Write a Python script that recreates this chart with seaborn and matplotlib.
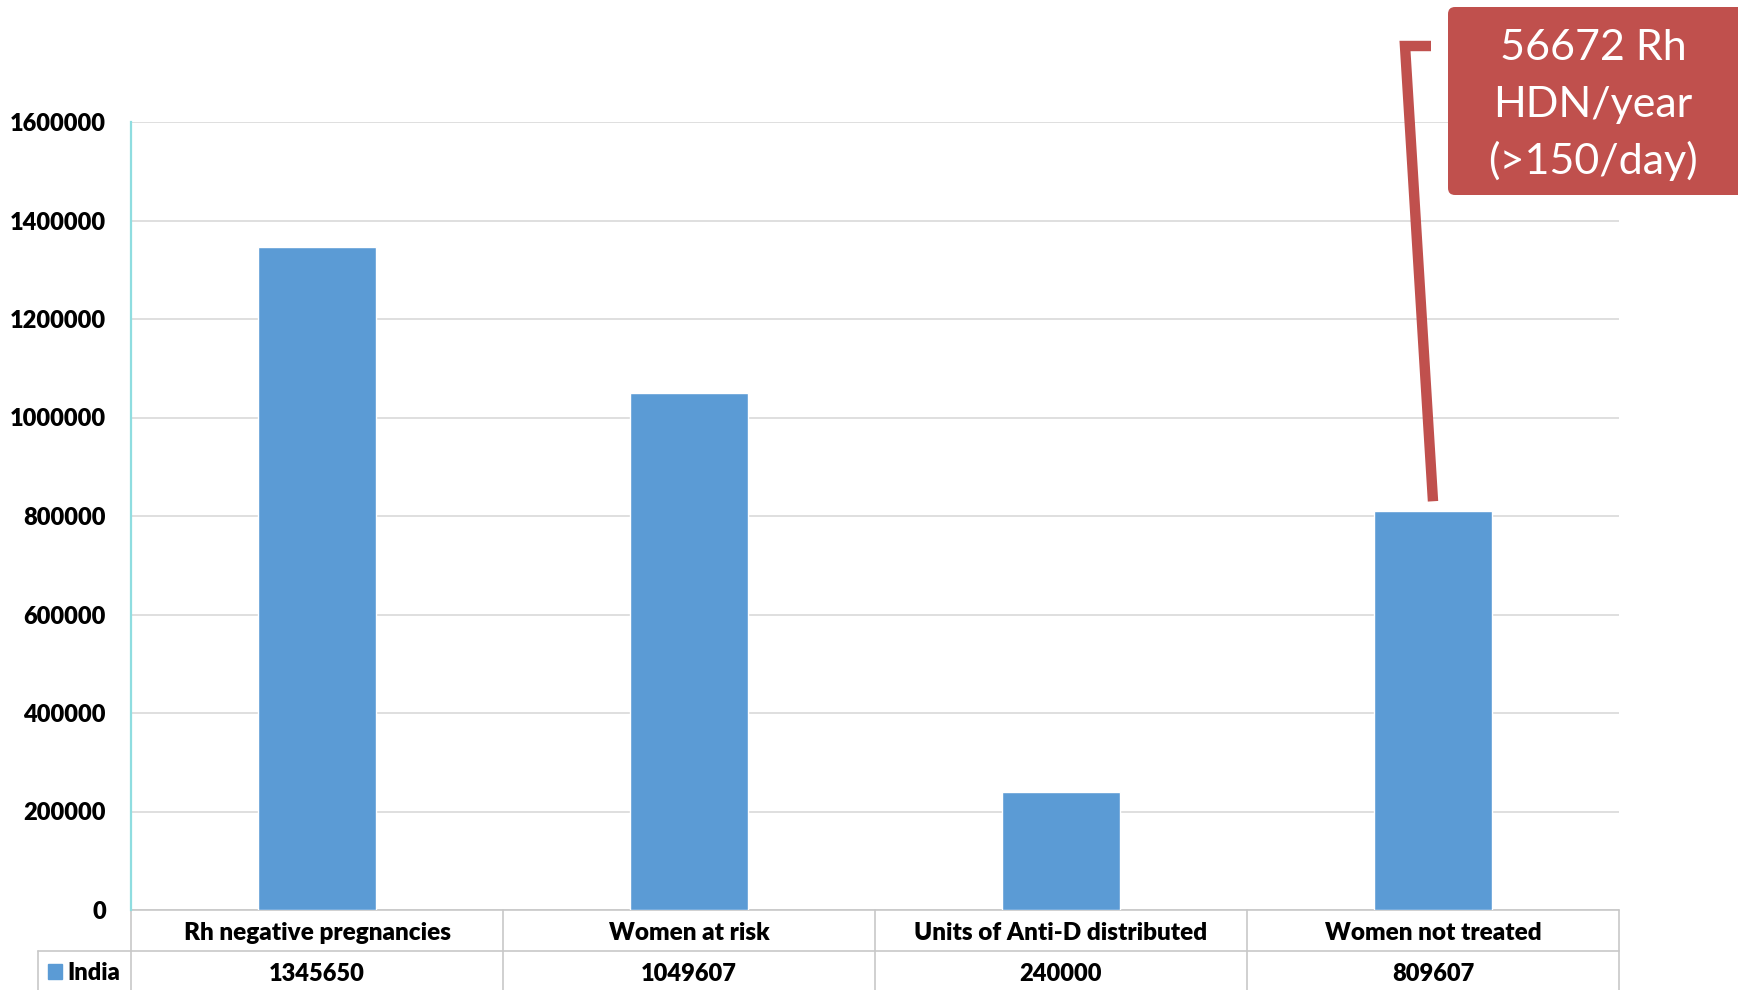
import matplotlib
matplotlib.use("Agg")
import matplotlib.pyplot as plt
import matplotlib.transforms as mtrans
from matplotlib.lines import Line2D
from matplotlib.patches import FancyBboxPatch, Rectangle
import pandas as pd
import seaborn as sns

# Data
categories = ["Rh negative pregnancies", "Women at risk",
              "Units of Anti-D distributed", "Women not treated"]
india = [1345650, 1049607, 240000, 809607]
series_name = "India"
yticks = [0, 200000, 400000, 600000, 800000, 1000000, 1200000, 1400000, 1600000]
callout_lines = ["56672 Rh", "HDN/year", "(>150/day)"]

# Colours
BAR = "#5B9BD5"
CALLOUT = "#C0504D"
GRID = "#D9D9D9"
TABLE = "#C8C8C8"
YAXIS = "#8FDDE0"

W, H = 1738, 990
LABEL_SIZE = 17.5
LABEL_WEIGHT = 800

sns.set_theme(style="white")
plt.rcParams["font.family"] = ["Lato", "DejaVu Sans"]

fig = plt.figure(figsize=(W / 100, H / 100), dpi=100)


def fx(px):
    return px / W


def fy(py):
    return 1 - py / H


# Plot area
left, right, top, bottom = 131, 1619, 122, 910
ax = fig.add_axes([fx(left), fy(bottom), fx(right) - fx(left), fy(top) - fy(bottom)])

df = pd.DataFrame({"category": categories, "value": india})
sns.barplot(data=df, x="category", y="value", color=BAR, saturation=1,
            width=0.315, ax=ax, zorder=3)

ax.set_xlim(-0.5, len(categories) - 0.5)
ax.set_ylim(0, 1600000)
ax.set_yticks(yticks)
ax.set_yticklabels([str(v) for v in yticks], fontsize=17, fontweight=LABEL_WEIGHT,
                   color="#000000")
ax.tick_params(axis="y", length=0, pad=18)
ax.set_xticks([])
ax.set_xlabel("")
ax.set_ylabel("")
ax.yaxis.grid(True, color=GRID, lw=1.2)
ax.set_axisbelow(True)
for s in ["top", "right", "bottom"]:
    ax.spines[s].set_visible(False)
ax.spines["left"].set_color(YAXIS)
ax.spines["left"].set_linewidth(1.6)

# Data table under the axis
trans = mtrans.blended_transform_factory(ax.transData, fig.transFigure)
n = len(categories)
row1_top, row_mid, row_bot = 910, 951, 990
ax.plot([-0.5, n - 0.5], [fy(row1_top)] * 2, color=TABLE, lw=1.2,
        transform=trans, clip_on=False)
fig.add_artist(Line2D([fx(38), fx(right)], [fy(row_mid)] * 2, color=TABLE, lw=1.2,
                      transform=fig.transFigure))
for i in range(n + 1):
    ax.plot([i - 0.5] * 2, [fy(row1_top), fy(row_bot)], color=TABLE, lw=1.2,
            transform=trans, clip_on=False)
fig.add_artist(Line2D([fx(38)] * 2, [fy(row_mid), fy(row_bot)], color=TABLE, lw=1.2,
                      transform=fig.transFigure))

for i, (cat, val) in enumerate(zip(categories, india)):
    ax.text(i, fy(933), cat, transform=trans, ha="center", va="center",
            fontsize=LABEL_SIZE, fontweight=LABEL_WEIGHT, color="#000000")
    ax.text(i, fy(974), f"{val}", transform=trans, ha="center", va="center",
            fontsize=17, fontweight=LABEL_WEIGHT, color="#000000")

fig.add_artist(Rectangle((fx(48), fy(979)), 14 / W, 15 / H, color=BAR,
                         transform=fig.transFigure))
fig.text(fx(67), fy(973), series_name, ha="left", va="center",
         fontsize=17, fontweight=LABEL_WEIGHT, color="#000000")

# Callout box
inch = fig.dpi_scale_trans
box = FancyBboxPatch((1448 / 100, (H - 195) / 100), 3.0, 1.88,
                     boxstyle="round,pad=0,rounding_size=0.07",
                     facecolor=CALLOUT, edgecolor="none", transform=inch)
fig.add_artist(box)
for line, base in zip(callout_lines, [60, 117, 174]):
    fig.text(fx(1593), fy(base), line, ha="center", va="baseline",
             fontsize=31, color="white")

# Connector from the callout down to the last bar
fig.canvas.draw()
end = ax.transData.transform((n - 1, india[-1]))
end_x, end_y = end[0], end[1] + 10
conn = Line2D([1431, 1405, end_x], [H - 46, H - 46, end_y],
              color=CALLOUT, lw=7.5, solid_joinstyle="miter",
              solid_capstyle="butt", transform=mtrans.IdentityTransform())
fig.add_artist(conn)

fig.savefig("out.png", dpi=100, facecolor="white")
